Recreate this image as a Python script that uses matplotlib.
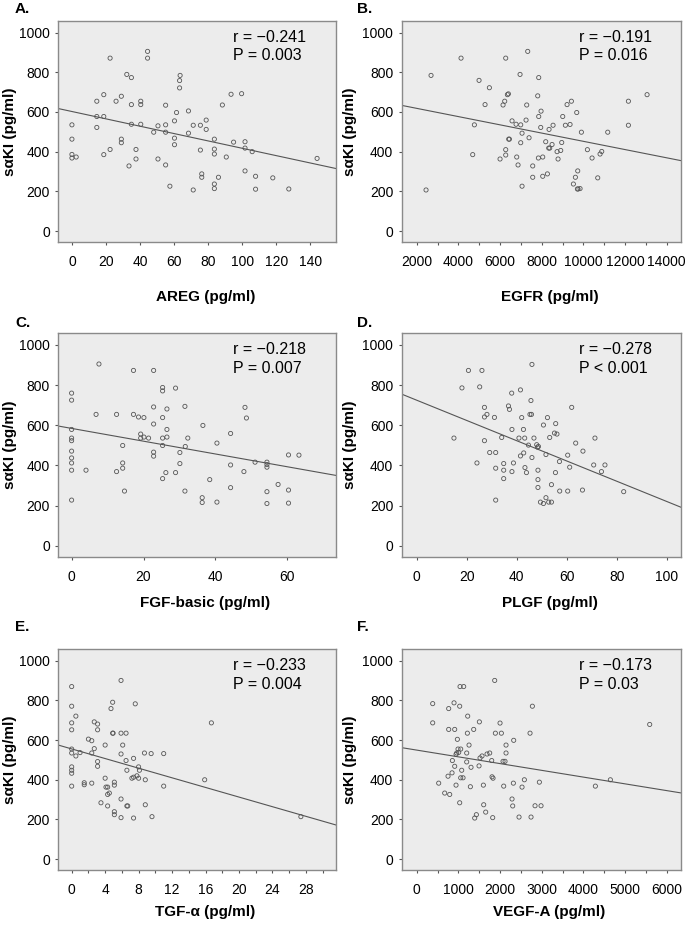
import numpy as np
import matplotlib
matplotlib.use("Agg")
import matplotlib.pyplot as plt

plt.rcParams['font.family'] = ['Liberation Sans', 'DejaVu Sans']

# values (x, sαKI)
areg_x = [0, 0, 0, 0, 2.5, 14.6, 14.6, 14.6, 18.7, 18.7, 18.7, 22.4, 22.4, 25.9, 29, 29, 29,
          32.2, 33.5, 34.9, 34.9, 34.9, 37.6, 37.6, 40.4, 40.4, 40.4, 44.4, 44.4, 48, 50.5, 50.5,
          55, 55, 55, 55, 57.5, 60.2, 60.2, 60.2, 61.4, 63.2, 63.2, 63.5, 68.4, 68.4, 71.2, 71.2,
          75.4, 75.4, 76.2, 76.2, 78.8, 78.8, 83.6, 83.6, 83.6, 83.6, 83.6, 86, 88.3, 90.6, 93.4,
          94.9, 99.6, 101.6, 101.6, 101.6, 105.8, 107.8, 107.8, 117.9, 127.3, 143.9]
areg_y = [535, 463, 386, 368, 373, 654, 577, 522, 687, 577, 385, 871, 411, 654, 679, 463, 445,
          789, 328, 773, 637, 538, 411, 363, 654, 637, 538, 905, 871, 498, 530, 363,
          634, 535, 498, 333, 226, 555, 468, 435, 597, 721, 758, 784, 605, 493, 533, 207,
          533, 408, 288, 271, 559, 512, 463, 413, 388, 237, 214, 271, 635, 373, 689,
          448, 692, 450, 418, 303, 400, 276, 211, 268, 212, 366]

egfr_x = [2448, 2688, 4128, 4688, 4768, 4992, 5280, 5488, 6000, 6144, 6224, 6272, 6272, 6272,
          6352, 6400, 6416, 6448, 6576, 6768, 6800, 6864, 6960, 6992, 6992, 7056, 7056, 7280,
          7248, 7328, 7392, 7568, 7568, 7808, 7856, 7856, 7840, 7952, 7968, 8048, 8048, 8192,
          8272, 8352, 8336, 8384, 8496, 8544, 8736, 8784, 8912, 8960, 9008, 9136, 9216, 9360,
          9424, 9520, 9616, 9680, 9728, 9712, 9744, 9840, 9904, 10192, 10416, 10688, 10800,
          10880, 11168, 12160, 12160, 13056]
egfr_y = [207, 784, 871, 385, 535, 759, 637, 722, 363, 635, 654, 871, 410, 383,
          687, 691, 463, 463, 555, 538, 373, 333, 789, 445, 535, 493, 226, 635,
          559, 905, 470, 328, 271, 681, 773, 577, 368, 522, 604, 373, 276, 450,
          288, 512, 418, 418, 436, 533, 400, 363, 406, 446, 577, 533, 637, 537,
          654, 237, 271, 597, 303, 212, 212, 214, 498, 410, 368, 268, 388,
          401, 498, 654, 533, 687]

fgf_x = [0, 0, 0, 0, 0, 0, 0, 0, 0, 0, 4, 6.8, 7.6, 12.5, 12.5, 14.2, 14.2, 14.2, 14.7, 17.2,
         17.2, 18.6, 19.2, 19.2, 20.1, 20.1, 21.4, 22.8, 22.8, 22.8, 22.8, 22.8, 25.3, 25.3,
         25.3, 25.3, 25.3, 25.3, 26.2, 26.5, 26.5, 26.5, 28.9, 28.9, 30.1, 30.1, 31.6, 31.5,
         31.5, 32.3, 36.5, 36.3, 36.3, 38.4, 40.4, 40.4, 44.2, 44.2, 44.2, 47.9, 48.2, 48.6,
         51, 54.3, 54.3, 54.3, 54.3, 54.3, 57.4, 60.3, 60.3, 60.3, 63.2]
fgf_y = [760, 725, 579, 536, 523, 471, 437, 412, 376, 227, 376, 654, 905, 654, 369, 499, 412,
         386, 272, 654, 873, 641, 556, 536, 638, 541, 536, 873, 691, 606, 466, 446, 788, 771,
         638, 536, 499, 334, 364, 681, 579, 541, 785, 364, 464, 409, 494, 694,
         272, 536, 599, 239, 215, 329, 511, 217, 559, 402, 289, 369, 689, 636,
         416, 416, 404, 391, 269, 210, 305, 452, 277, 212, 451]

plgf_x = [14.9, 18.1, 20.7, 24.1, 25.2, 26.1, 27.1, 27.1, 27.1, 28.1, 29.2, 31.1, 31.6, 31.6,
          31.6, 34, 34.8, 34.8, 34.8, 36.7, 37.1, 38, 38.1, 38.1, 38.7, 40.9, 41.5, 41.5, 42,
          42.7, 42.8, 43.2, 43.3, 43.9, 44.7, 45.3, 45.7, 45.9, 46.1, 46.1, 46.9, 48, 48.3,
          48.7, 48.5, 48.5, 48.5, 49.5, 50.7, 50.7, 51.7, 51.7, 52.3, 52.8, 53.2, 53.9, 53.9,
          55.1, 55.5, 55.6, 56.1, 57.1, 57.2, 60.4, 60.4, 61.2, 62, 63.6, 66.3, 66.5, 70.8,
          71.3, 73.9, 75.3, 82.8]
plgf_y = [536, 786, 873, 412, 791, 873, 689, 641, 523, 654, 464, 639, 464, 386,
          227, 539, 409, 376, 334, 696, 679, 760, 579, 369, 412, 536, 776, 447, 638,
          579, 462, 536, 389, 364, 501, 654, 723, 654, 903, 439, 536, 503, 491,
          494, 376, 329, 290, 217, 210, 601, 454, 239, 638, 217, 539, 304, 217,
          561, 364, 608, 556, 419, 272, 451, 272, 391, 689, 511, 277, 471, 402,
          536, 369, 402, 269]

tgf_x = [0, 0, 0, 0, 0, 0, 0, 0, 0, 0, 0.5, 0.5, 1, 1.5, 1.5, 2, 2.4, 2.4, 2.4, 2.7, 2.7, 3.1,
         3.1, 3.1, 3.1, 3.5, 4, 4, 4.1, 4.3, 4.3, 4.3, 4.5, 4.7, 4.9, 4.9, 4.95, 5.1, 5.1, 5.1,
         5.1, 5.9, 5.9, 5.9, 5.9, 5.9, 6.1, 6.5, 6.5, 6.6, 6.6, 6.7, 7.2, 7.4, 7.4, 7.4, 7.6,
         7.8, 8, 8, 8.1, 8.7, 8.8, 8.8, 9.5, 9.6, 11, 11, 15.9, 16.7, 27.4]
tgf_y = [870, 771, 687, 652, 555, 535, 465, 448, 433, 368, 721, 520, 537, 385, 375, 605, 597,
         535, 383, 692, 557, 681, 652, 492, 468, 284, 575, 408, 363, 363, 268, 326, 333, 759,
         791, 635, 635, 388, 373, 239, 224, 901, 635, 530, 303, 209, 575, 635, 497, 448,
         268, 268, 408, 413, 508, 207, 783, 420, 465, 408, 448, 535, 400, 274, 532, 214,
         532, 368, 400, 687, 214]

vegf_x = [384, 384, 528, 672, 768, 768, 752, 792, 848, 856, 896, 912, 912, 944, 944, 960, 976,
          992, 1008, 1032, 1032, 1040, 1056, 1056, 1080, 1112, 1128, 1200, 1200, 1216, 1224,
          1256, 1288, 1304, 1368, 1392, 1432, 1496, 1504, 1520, 1568, 1600, 1608, 1656, 1688,
          1752, 1800, 1808, 1832, 1824, 1872, 1888, 2000, 2032, 2072, 2088, 2120, 2144, 2144,
          2288, 2304, 2320, 2328, 2456, 2528, 2584, 2720, 2744, 2776, 2840, 2944, 2984, 4288,
          4648, 5592]
vegf_y = [784, 687, 383, 333, 759, 654, 418, 326, 435, 497, 788, 654, 468, 373, 528, 535, 604,
          555, 538, 771, 284, 870, 555, 410, 448, 410, 870, 535, 490, 635, 721,
          575, 365, 463, 654, 207, 224, 470, 692, 510, 520, 373, 274, 237, 530,
          535, 497, 415, 408, 209, 901, 635, 686, 635, 493, 368, 493, 575, 535,
          303, 268, 383, 599, 212, 363, 400, 635, 212, 771, 269, 388, 269, 368,
          400, 679]

# fitted lines: intercept, slope
fit_intercept = [602.2, 659.6, 584.2, 724.7, 555.6, 549.7]
fit_slope = [-1.853, -0.02076, -3.187, -5.045, -12.14, -0.03405]

r_text = ['r = \u22120.241', 'r = \u22120.191', 'r = \u22120.218',
          'r = \u22120.278', 'r = \u22120.233', 'r = \u22120.173']
p_text = ['P = 0.003', 'P = 0.016', 'P = 0.007', 'P < 0.001', 'P = 0.004', 'P = 0.03']
x_labels = ['AREG (pg/ml)', 'EGFR (pg/ml)', 'FGF-basic (pg/ml)', 'PLGF (pg/ml)',
            'TGF-\u03b1 (pg/ml)', 'VEGF-A (pg/ml)']
panel_letters = ['A.', 'B.', 'C.', 'D.', 'E.', 'F.']

xs = [areg_x, egfr_x, fgf_x, plgf_x, tgf_x, vegf_x]
ys = [areg_y, egfr_y, fgf_y, plgf_y, tgf_y, vegf_y]

xlims = [(-8, 155), (1280, 14670), (-3.7, 73.5), (-6, 105.6), (-1.6, 31.6), (-360, 6336)]
major_ticks = [np.arange(0, 141, 20), np.arange(2000, 14001, 2000), np.arange(0, 61, 20),
               np.arange(0, 101, 20), np.arange(0, 29, 4), np.arange(0, 6001, 1000)]
minor_step = [None, 1000, None, None, 2, 500]

fig = plt.figure(figsize=(6.85, 9.25), dpi=100)
W, H = 685.0, 925.0
col_left = [58.3, 401.7]
col_w = [277.7, 279]
row_top = [21, 333.3, 649.3]
row_bot = [242, 556.7, 870]
xlabel_y = [297, 603, 912]
letter_y = [9, 323, 627]

for i in range(6):
    r, c = divmod(i, 2)
    ax = fig.add_axes([col_left[c] / W, 1 - row_bot[r] / H, col_w[c] / W,
                       (row_bot[r] - row_top[r]) / H])
    ax.set_facecolor('#ececec')
    for s in ax.spines.values():
        s.set_color('#8a8a8a')
        s.set_linewidth(1.0)
    ax.scatter(xs[i], ys[i], s=9, facecolors='none', edgecolors='#555555', linewidths=0.6,
               zorder=3)
    xl = xlims[i]
    lx = np.array(xl)
    ax.plot(lx, fit_intercept[i] + fit_slope[i] * lx, color='#555555', lw=0.8, zorder=2)
    ax.set_xlim(xl)
    ax.set_ylim(-55, 1058)
    ax.set_yticks(np.arange(0, 1001, 200))
    ax.set_xticks(major_ticks[i])
    if minor_step[i]:
        ax.set_xticks(np.arange(major_ticks[i][0], xl[1], minor_step[i]), minor=True)
        ax.tick_params(axis='x', which='minor', length=2.5, width=0.8, color='#555555')
    ax.tick_params(which='major', length=2.5, width=0.8, color='#555555', labelsize=10)
    ax.tick_params(axis='x', which='major', pad=7)
    ax.tick_params(axis='y', which='major', pad=3.5)
    ax.set_ylabel('s\u03b1KI (pg/ml)', fontsize=11, fontweight='bold')
    ax.yaxis.set_label_coords(-0.15 if c == 0 else -0.162, 0.5)
    ax.set_xlabel(x_labels[i], fontsize=11, fontweight='bold', va='center')
    ax.xaxis.set_label_coords(0.53, -(xlabel_y[r] - row_bot[r]) / (row_bot[r] - row_top[r]))
    tx = 0.629 if c == 0 else 0.637
    ax.text(tx, 0.926, r_text[i], transform=ax.transAxes, fontsize=11.5, va='center')
    ax.text(tx, 0.842, p_text[i], transform=ax.transAxes, fontsize=11.5, va='center')
    lx_letter = 15 if c == 0 else 357
    fig.text(lx_letter / W, 1 - letter_y[r] / H, panel_letters[i], fontsize=11,
             fontweight='bold', va='center')

fig.savefig('out.png', dpi=100)
